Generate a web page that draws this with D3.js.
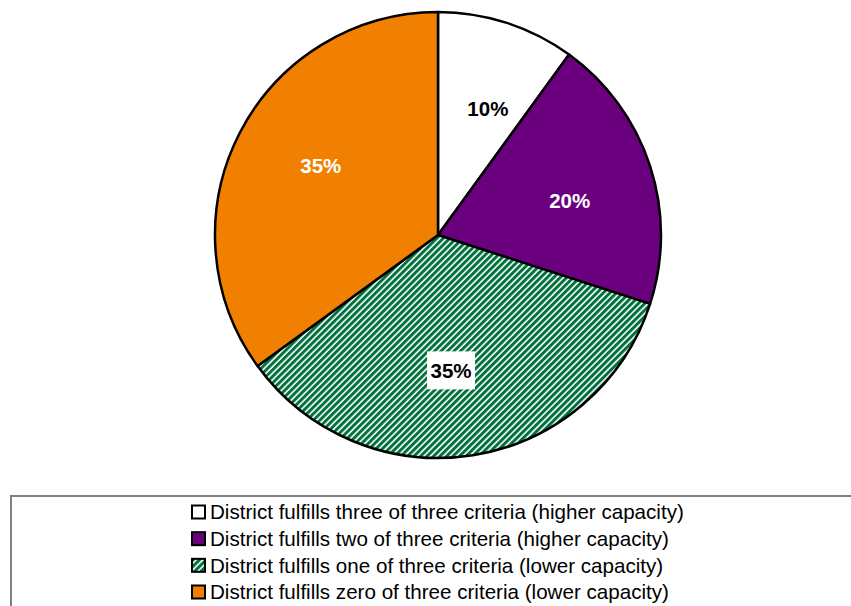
<!DOCTYPE html>
<html>
<head>
<meta charset="utf-8">
<script src="https://cdn.jsdelivr.net/npm/d3@7"></script>
<style>
  html, body { margin: 0; padding: 0; background: #fff; }
  svg { display: block; font-family: "Liberation Sans", Arial, sans-serif; }
</style>
</head>
<body>
<svg id="chart" width="851" height="606"></svg>
<script>
// Share of districts by number of capacity criteria fulfilled
const categories = [
  "District fulfills three of three criteria (higher capacity)",
  "District fulfills two of three criteria (higher capacity)",
  "District fulfills one of three criteria (lower capacity)",
  "District fulfills zero of three criteria (lower capacity)"
];
const shares = [10, 20, 35, 35];
const percentLabels = ["10%", "20%", "35%", "35%"];

const fills = ["#ffffff", "#6b007f", "url(#hatch)", "#f28000"];
const labelColors = ["#000000", "#ffffff", "#000000", "#ffffff"];
const labelBoxed = [false, false, true, false];

const svg = d3.select("#chart");

// Diagonal green hatch used by the "one of three" slice
const defs = svg.append("defs");
const hatch = defs.append("pattern")
  .attr("id", "hatch")
  .attr("patternUnits", "userSpaceOnUse")
  .attr("width", 4.6)
  .attr("height", 4.6)
  .attr("patternTransform", "rotate(45)");
hatch.append("rect").attr("width", 4.6).attr("height", 4.6).attr("fill", "#ffffff");
hatch.append("rect").attr("width", 3.0).attr("height", 4.6).attr("fill", "#00703c");

// Pie
const cx = 438, cy = 235, radius = 223;
const pie = d3.pie().sort(null).value(d => d);
const arcs = pie(shares);
const arc = d3.arc().innerRadius(0).outerRadius(radius);

// Labels sit a little clockwise of each slice's mid-angle
const labelRadius = 136;
const labelTurn = 3.5 * Math.PI / 180;
function labelPos(d) {
  const a = (d.startAngle + d.endAngle) / 2 + labelTurn;
  return [labelRadius * Math.sin(a), -labelRadius * Math.cos(a)];
}

const g = svg.append("g").attr("transform", `translate(${cx},${cy})`);

g.selectAll("path.slice")
  .data(arcs)
  .join("path")
  .attr("class", "slice")
  .attr("d", arc)
  .attr("fill", (d, i) => fills[i])
  .attr("stroke", "#000")
  .attr("stroke-width", 2.5)
  .attr("stroke-linejoin", "round");

const labels = g.selectAll("g.lbl")
  .data(arcs)
  .join("g")
  .attr("class", "lbl")
  .attr("transform", d => `translate(${labelPos(d)})`);

labels.each(function (d, i) {
  const sel = d3.select(this);
  if (labelBoxed[i]) {
    sel.append("rect")
      .attr("x", -24).attr("y", -19)
      .attr("width", 48).attr("height", 38)
      .attr("fill", "#fff");
  }
  sel.append("text")
    .attr("text-anchor", "middle")
    .attr("dy", "0.36em")
    .attr("font-size", 20.5)
    .attr("font-weight", "bold")
    .attr("fill", labelColors[i])
    .text(percentLabels[i]);
});

// Legend
const legend = svg.append("g");
legend.append("rect")
  .attr("x", 11).attr("y", 496)
  .attr("width", 880).attr("height", 140)
  .attr("fill", "#fff")
  .attr("stroke", "#808080")
  .attr("stroke-width", 2);

const rowY = d3.scalePoint()
  .domain(categories)
  .range([512, 592]);

const rows = legend.selectAll("g.row")
  .data(categories)
  .join("g")
  .attr("class", "row")
  .attr("transform", d => `translate(192,${rowY(d)})`);

rows.append("rect")
  .attr("x", 0).attr("y", -6.5)
  .attr("width", 13).attr("height", 13)
  .attr("fill", (d, i) => fills[i])
  .attr("stroke", "#000")
  .attr("stroke-width", 2);

rows.append("text")
  .attr("x", 18)
  .attr("dy", "0.36em")
  .attr("font-size", 20.6)
  .attr("fill", "#000")
  .text(d => d);
</script>
</body>
</html>
